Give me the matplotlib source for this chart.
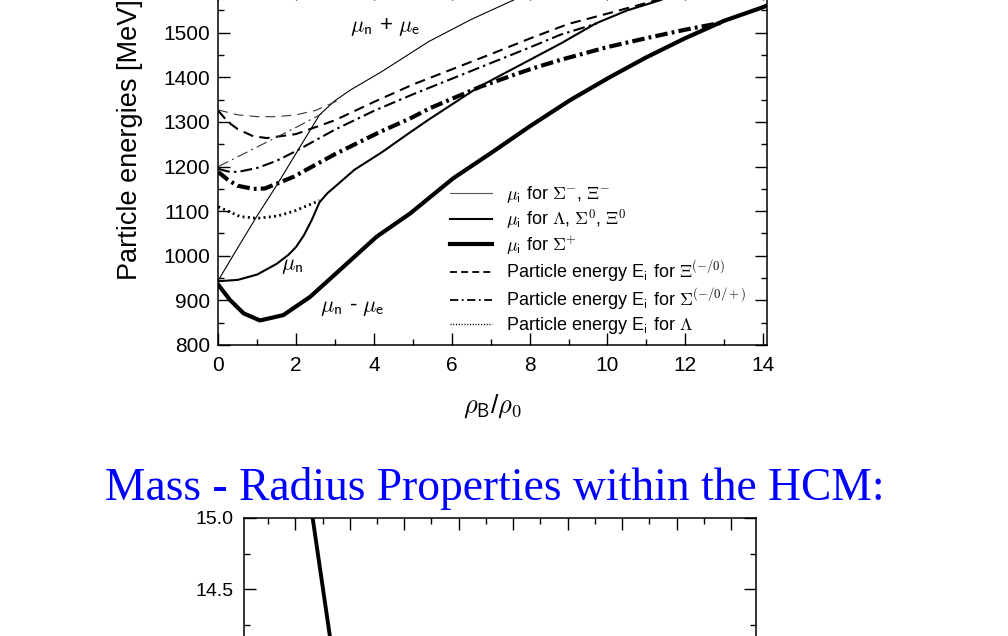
import numpy as np
import matplotlib
matplotlib.use('Agg')
import matplotlib.pyplot as plt
from matplotlib.ticker import MultipleLocator

plt.rcParams['font.family'] = ['Liberation Sans', 'DejaVu Sans']
plt.rcParams['mathtext.fontset'] = 'cm'
plt.rcParams['lines.scale_dashes'] = False

# ── Top chart: particle energies vs. density ──
# thin solid: mu_n + mu_e  (mu_i for Sigma-, Xi-)
x_mu_ne = [0, 0.5, 1.0, 1.5, 2.0, 2.6, 3.0, 3.4, 4.2, 5.4, 6.5, 7.6, 8.5]
e_mu_ne = [945, 1018, 1090, 1158, 1230, 1316, 1348, 1372, 1413, 1480, 1530, 1574, 1612]

# medium solid: mu_n  (mu_i for Lambda, Sigma0, Xi0)
x_mu_n = [0, 0.5, 1.0, 1.5, 1.8, 2.0, 2.2, 2.4, 2.6, 2.8, 3.0, 3.5, 4.2, 4.9, 5.4,
          6.7, 8.0, 8.8, 9.7, 10.5, 11.35, 12.0]
e_mu_n = [943, 946, 958, 982, 1002, 1020, 1046, 1080, 1120, 1140, 1155, 1193, 1232,
          1275, 1305, 1379, 1439, 1476, 1521, 1550, 1573, 1595]

# thick solid: mu_n - mu_e  (mu_i for Sigma+)
x_mu_nme = [0, 0.3, 0.65, 1.07, 1.67, 2.36, 3.21, 4.07, 4.93, 6.04, 7.0, 8.0, 9.04,
            10.07, 11.0, 12.0, 13.0, 13.92, 14.1]
e_mu_nme = [935, 901, 871, 855, 867, 908, 975, 1043, 1095, 1174, 1230, 1290, 1349,
            1401, 1445, 1488, 1527, 1555, 1561]

# dashed: particle energy for Xi- (thin) and Xi0 (medium)
x_xi_m = [0, 0.5, 1.0, 1.5, 2.0, 2.5, 3.05]
e_xi_m = [1327, 1316, 1312, 1312, 1316, 1326, 1347]
x_xi_0 = [0, 0.25, 0.5, 0.9, 1.25, 2.0, 3.0, 4.0, 5.0, 6.0, 7.0, 8.0, 9.0, 10.0,
          10.5, 11.3]
e_xi_0 = [1325, 1300, 1284, 1268, 1264, 1273, 1304, 1345, 1384, 1418, 1452, 1487,
          1520, 1543, 1555, 1574]

# dash-dot: particle energy for Sigma- (thin), Sigma0 (medium), Sigma+ (thick)
x_sig_m = [0, 1.0, 2.0, 2.65]
e_sig_m = [1200, 1244, 1288, 1318]
x_sig_0 = [0, 0.25, 0.5, 1.0, 1.5, 2.0, 3.0, 4.0, 5.0, 6.0, 7.0, 8.0, 8.8, 9.73]
e_sig_0 = [1195, 1189, 1188, 1197, 1213, 1235, 1283, 1325, 1362, 1397, 1432, 1467,
           1496, 1521]
x_sig_p = [0, 0.25, 0.5, 0.9, 1.2, 1.93, 3.0, 4.16, 4.93, 5.44, 6.73, 8.0, 8.78,
           10.0, 11.0, 12.0, 12.9]
e_sig_p = [1188, 1170, 1157, 1150, 1151, 1177, 1228, 1278, 1308, 1331, 1379, 1418,
           1439, 1468, 1488, 1507, 1522]

# dotted: particle energy for Lambda
x_lam = [0, 0.56, 1.0, 1.5, 1.76, 2.0, 2.44, 2.6]
e_lam = [1110, 1088, 1084, 1089, 1095, 1102, 1118, 1124]

legend_labels = [
    r'$\mu_{\mathsf{i}}$ for $\Sigma^{\mathsf{-}}$, $\Xi^{\mathsf{-}}$',
    r'$\mu_{\mathsf{i}}$ for $\Lambda$, $\Sigma^{0}$, $\Xi^{0}$',
    r'$\mu_{\mathsf{i}}$ for $\Sigma^{+}$',
    r'Particle energy E$_{\mathsf{i}}$ for $\Xi^{(-/0)}$',
    r'Particle energy E$_{\mathsf{i}}$ for $\Sigma^{(-/0/+)}$',
    r'Particle energy E$_{\mathsf{i}}$ for $\Lambda$',
]

# ── Bottom chart: mass-radius (only the top of it is visible) ──
x_mr = [9.28, 9.47, 9.66]
y_mr = [15.1, 14.6, 14.1]
mr_yticks = [13.0, 13.5, 14.0, 14.5, 15.0]
mr_ylabels = ['', '', '', '14.5', '15.0']

W, H = 1008, 636
fig = plt.figure(figsize=(W / 100, H / 100), dpi=100)

# top axes (its upper part lies above the figure edge)
ax = fig.add_axes([218.3 / W, (H - 345) / H, (767 - 218.3) / W, 356.8 / H])
ax.set_xlim(0, 14.1)
ax.set_ylim(800, 1600)

THIN, MED, THICK = 0.8, 1.5, 3.0
ax.plot(x_mu_ne, e_mu_ne, color='black', lw=THIN)
ax.plot(x_mu_n, e_mu_n, color='black', lw=MED)
ax.plot(x_mu_nme, e_mu_nme, color='black', lw=THICK)
ax.plot(x_xi_m, e_xi_m, color='#333333', lw=THIN, dashes=(7, 4.5))
ax.plot(x_xi_0, e_xi_0, color='black', lw=MED, dashes=(7.5, 4.5))
ax.plot(x_sig_m, e_sig_m, color='#333333', lw=THIN, dashes=(8, 3, 1.5, 3))
ax.plot(x_sig_0, e_sig_0, color='black', lw=MED, dashes=(8.5, 3, 1.8, 3))
ax.plot(x_sig_p, e_sig_p, color='black', lw=THICK, dashes=(9, 3, 2, 3))
ax.plot(x_lam, e_lam, color='black', lw=2.0, dashes=(1.4, 2.4))

# legend handles (styles follow the picture's key)
h = [
    plt.Line2D([], [], color='#555555', lw=THIN),
    plt.Line2D([], [], color='black', lw=MED),
    plt.Line2D([], [], color='black', lw=THICK),
    plt.Line2D([], [], color='black', lw=1.3, dashes=(5, 3)),
    plt.Line2D([], [], color='black', lw=1.3, dashes=(6, 2.5, 1.3, 2.5)),
    plt.Line2D([], [], color='black', lw=1.0, dashes=(0.8, 1.2)),
]
fig.legend(h, legend_labels, loc='upper left', bbox_to_anchor=(450 / W, (H - 184) / H),
           frameon=False, fontsize=13, handlelength=2.3, handletextpad=0.8,
           labelspacing=0.12, borderpad=0, borderaxespad=0)

ax.text(4.29, 1513, r'$\mu_{\mathsf{n}}$ + $\mu_{\mathsf{e}}$', fontsize=16,
        ha='center', va='center')
ax.text(1.89, 979, r'$\mu_{\mathsf{n}}$', fontsize=16, ha='center', va='center')
ax.text(3.44, 883, r'$\mu_{\mathsf{n}}$ - $\mu_{\mathsf{e}}$', fontsize=16,
        ha='center', va='center')

ax.xaxis.set_major_locator(MultipleLocator(2))
ax.xaxis.set_minor_locator(MultipleLocator(1))
ax.yaxis.set_minor_locator(MultipleLocator(50))
ax.tick_params(which='both', direction='in', top=True, right=True, width=1.0,
               labelsize=15, pad=6)
ax.tick_params(axis='x', pad=8)
ax.tick_params(which='major', length=8.6)
ax.tick_params(which='minor', length=4.5)
# the 1600 label would sit on the figure edge; the picture shows none
ax.set_yticks([800, 900, 1000, 1100, 1200, 1300, 1400, 1500])
for s in ax.spines.values():
    s.set_linewidth(1.1)
ax.set_xlabel(r'$\rho_{\mathsf{B}}$/$\rho_{\mathsf{0}}$', fontsize=19, labelpad=12)
ax.set_ylabel('Particle energies [MeV]', fontsize=19.5)
ax.yaxis.set_label_coords(-0.137, 0.575)

# slide title
fig.text(495 / W, (H - 500) / H, 'Mass - Radius Properties within the HCM:',
         family='Liberation Serif', fontsize=32.8, color='#0000ff',
         ha='center', va='baseline')

# bottom axes (mostly below the figure edge)
ax2 = fig.add_axes([243.6 / W, (118 - 355) / H, (755.5 - 243.6) / W, 355 / H])
ax2.set_xlim(8.05, 17.45)
ax2.set_ylim(12.5, 15.0)
ax2.plot(x_mr, y_mr, color='black', lw=2.8)
ax2.xaxis.set_major_locator(MultipleLocator(1))
ax2.xaxis.set_minor_locator(MultipleLocator(0.5))
ax2.yaxis.set_minor_locator(MultipleLocator(0.25))
ax2.set_yticks(mr_yticks, mr_ylabels)
ax2.tick_params(which='both', direction='in', top=True, right=True, width=1.0,
                labelsize=14, pad=7, labelbottom=False)
ax2.tick_params(which='major', length=8.6)
ax2.tick_params(which='minor', length=4.5)
for s in ax2.spines.values():
    s.set_linewidth(1.1)

fig.savefig('out.png', dpi=100)
